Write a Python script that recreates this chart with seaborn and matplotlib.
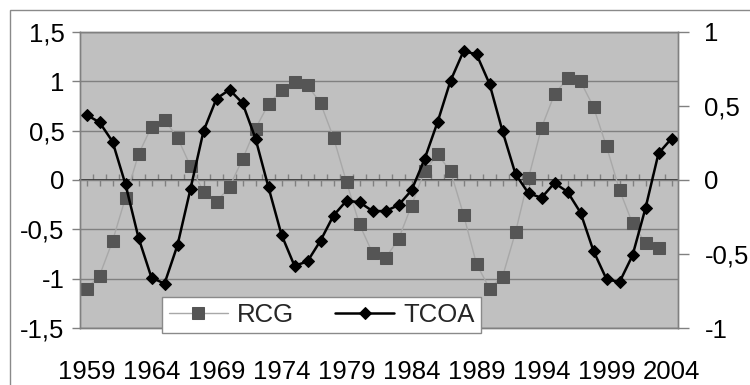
import numpy as np
import pandas as pd
import matplotlib
matplotlib.use("Agg")
import matplotlib.pyplot as plt
from matplotlib.patches import Rectangle
from matplotlib.ticker import FixedLocator, NullFormatter
import seaborn as sns

# ---- data -------------------------------------------------------------
years = list(range(1959, 2005))
rcg = [-1.10, -0.97, -0.62, -0.18, 0.26, 0.54, 0.61, 0.43, 0.14, -0.12,
       -0.22, -0.07, 0.21, 0.52, 0.77, 0.91, 0.99, 0.96, 0.78, 0.43,
       -0.02, -0.45, -0.74, -0.79, -0.60, -0.26, 0.09, 0.26, 0.09, -0.35,
       -0.85, -1.10, -0.98, -0.53, 0.02, 0.53, 0.87, 1.03, 1.00, 0.74,
       0.34, -0.10, -0.44, -0.64, -0.69, np.nan]
tcoa = [0.44, 0.39, 0.26, -0.03, -0.39, -0.66, -0.70, -0.44, -0.06, 0.33,
        0.55, 0.61, 0.52, 0.28, -0.05, -0.37, -0.58, -0.55, -0.41, -0.24,
        -0.14, -0.15, -0.21, -0.21, -0.17, -0.07, 0.14, 0.39, 0.67, 0.87,
        0.85, 0.65, 0.33, 0.04, -0.09, -0.12, -0.02, -0.08, -0.22, -0.48,
        -0.67, -0.69, -0.51, -0.19, 0.18, 0.28]
left_ticks = [-1.5, -1, -0.5, 0, 0.5, 1, 1.5]
right_ticks = [-1, -0.5, 0, 0.5, 1]
year_labels = list(range(1959, 2005, 5))

df = pd.DataFrame({"year": years, "RCG": rcg, "TCOA": tcoa})

# ---- style ------------------------------------------------------------
sns.set_theme(style="white")
plt.rcParams["font.family"] = ["Liberation Sans", "DejaVu Sans"]
FS = 18.5

W, H = 750, 385
fig = plt.figure(figsize=(W / 100, H / 100), dpi=100)
fig.patch.set_facecolor("white")

L, R, T, B = 80, 678, 32, 328
ax = fig.add_axes([L / W, 1 - B / H, (R - L) / W, (B - T) / H])
ax2 = ax.twinx()

frame_col = "#808080"
ax.set_facecolor("#c0c0c0")
for a in (ax, ax2):
    for s in a.spines.values():
        s.set_color(frame_col)
        s.set_linewidth(1.0)

# outer chart border
fig.add_artist(Rectangle((10 / W, -0.1), 1.2, 1.1 - 10 / H,
                         transform=fig.transFigure, fill=False,
                         edgecolor="#8a8a8a", linewidth=1.0))

# ---- series -----------------------------------------------------------
sns.lineplot(data=df, x="year", y="RCG", ax=ax, color="#a8a8a8", lw=1.0,
             marker="s", markersize=8, markerfacecolor="#555555",
             markeredgecolor="#555555", label="RCG", legend=False)
sns.lineplot(data=df, x="year", y="TCOA", ax=ax2, color="black", lw=1.8,
             marker="D", markersize=6.5, markerfacecolor="black",
             markeredgecolor="black", label="TCOA", legend=False)

# ---- axes -------------------------------------------------------------
ax.set_xlim(years[0] - 0.5, years[-1] + 0.5)
ax.set_ylim(-1.5, 1.5)
ax2.set_ylim(-1, 1)

fmt = lambda v: (f"{v:g}").replace(".", ",")
ax.set_yticks(left_ticks)
ax.set_yticklabels([fmt(v) for v in left_ticks])
ax2.set_yticks(right_ticks)
ax2.set_yticklabels([fmt(v) for v in right_ticks])
ax.set_xticks(year_labels)
ax.set_xticklabels([str(y) for y in year_labels])

ax.tick_params(axis="y", left=True, direction="out", length=6, width=1,
               color=frame_col, labelsize=FS, pad=5, labelcolor="black")
ax2.tick_params(axis="y", right=True, direction="out", length=8, width=1,
                color=frame_col, labelsize=FS, pad=11, labelcolor="black")
ax.tick_params(axis="x", bottom=True, length=0, labelsize=FS, pad=23,
               labelcolor="black")

ax.set_xlabel("")
ax.set_ylabel("")
ax2.set_ylabel("")

# horizontal gridlines at the left-axis ticks
ax.yaxis.grid(True, color="#808080", linewidth=1.0)
ax.xaxis.grid(False)
ax.set_axisbelow(True)

# category axis crossing at zero, with small tick marks
zero_ax = ax.secondary_xaxis(0.5)
zero_ax.spines["bottom"].set_color(frame_col)
zero_ax.spines["bottom"].set_linewidth(1.0)
zero_ax.xaxis.set_major_locator(FixedLocator(years))
zero_ax.xaxis.set_minor_locator(FixedLocator([y + 0.5 for y in years[:-1]]))
zero_ax.xaxis.set_major_formatter(NullFormatter())
zero_ax.tick_params(which="major", direction="in", length=4, width=1,
                    color=frame_col)
zero_ax.tick_params(which="minor", direction="out", length=4, width=1,
                    color=frame_col)

# ---- legend -----------------------------------------------------------
h1, l1 = ax.get_legend_handles_labels()
h2, l2 = ax2.get_legend_handles_labels()
leg = ax2.legend(h1 + h2, l1 + l2, loc="center",
                 bbox_to_anchor=(0.404, 0.044), ncol=2, fontsize=FS,
                 frameon=True, fancybox=False, edgecolor="#8a8a8a",
                 framealpha=1.0, handlelength=2.3, handletextpad=0.35,
                 columnspacing=1.6, borderpad=0.25, borderaxespad=0)
leg.get_frame().set_linewidth(1.0)
leg.set_zorder(10)

fig.savefig("out.png", dpi=100)
